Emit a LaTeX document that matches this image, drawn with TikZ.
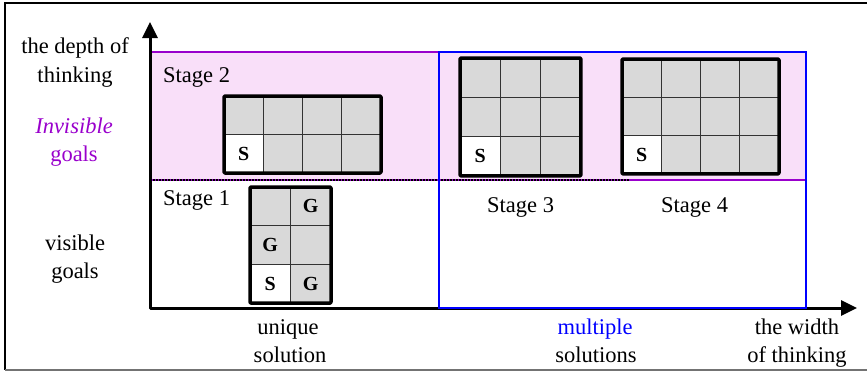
\documentclass[tikz,border=0pt]{standalone}
\usepackage{fontspec}
\setmainfont{Liberation Serif}
\usetikzlibrary{arrows.meta}
\definecolor{pinkfill}{RGB}{249,223,249}
\definecolor{purp}{RGB}{153,0,204}
\definecolor{cellgray}{RGB}{217,217,217}
\definecolor{inkblue}{RGB}{0,0,255}
\tikzset{AxTip/.tip={Triangle[length=16pt,width=15pt]}}
% puzzle board: x0, y0, columns, rows, cell width, cell height
\newcommand{\puzzlegrid}[6]{%
  \fill[cellgray] (#1,#2) rectangle ++(#3*#5,#4*#6);
  \fill[white] (#1,#2+#4*#6-#6) rectangle ++(#5,#6);
  \foreach \i in {1,...,#3} \draw[cellline] (#1+\i*#5,#2) -- ++(0,#4*#6);
  \foreach \j in {1,...,#4} \draw[cellline] (#1,#2+\j*#6) -- ++(#3*#5,0);
  \draw[gridframe] (#1,#2) rectangle ++(#3*#5,#4*#6);
}
\begin{document}
\begin{tikzpicture}[x=1pt,y=-1pt,
  lbl/.style={font=\fontsize{22.5}{27}\selectfont, inner sep=0pt, anchor=base},
  letter/.style={font=\fontsize{20}{24}\selectfont\bfseries, inner sep=0pt},
  cellline/.style={line width=1.3pt, draw=black!80},
  gridframe/.style={line width=3.5pt, rounded corners=1pt, line join=round},
  axis/.style={line width=3pt, line join=round, AxTip-AxTip}]
\useasboundingbox (0,0) rectangle (867,372);

% outer frame
\draw[line width=2pt] (867,3) -- (5,3) -- (5,370);
\draw[line width=1.5pt, black!55] (5,370) -- (867,370);

% band of invisible goals
\fill[pinkfill] (150,52) rectangle (806,180);
\draw[purp, line width=2pt] (150,52) -- (439,52);
\draw[purp, line width=2pt] (150,180) -- (806,180);
\draw[black, line width=2pt, dash pattern=on 1.5pt off 1.5pt] (150,180) -- (630,180);

% axes
\coordinate (ytip) at (150,22);
\coordinate (origin) at (150,308);
\coordinate (xtip) at (857,308);
\draw[axis] (ytip) -- (origin) -- (xtip);

% region of multiple solutions
\draw[inkblue, line width=2pt] (439,52) rectangle (806,308);

% puzzle boards
\puzzlegrid{224}{96}{4}{2}{39.25}{38.5}
\puzzlegrid{250}{187}{2}{3}{40.5}{38.7}
\puzzlegrid{460}{58}{3}{3}{40.3}{39.3}
\puzzlegrid{622}{59}{4}{3}{39.25}{38.3}

\node[letter] (s2S) at (243.6,153.5) {S};
\node[letter] (s1G1) at (310.75,206.4) {G};
\node[letter] (s1G2) at (270.25,245.1) {G};
\node[letter] (s1S) at (270.25,283.8) {S};
\node[letter] (s1G3) at (310.75,283.8) {G};
\node[letter] (s3S) at (480.2,156.3) {S};
\node[letter] (s4S) at (641.6,154.8) {S};

% stage labels
\node[lbl, anchor=base west] (st2) at (163,82) {Stage 2};
\node[lbl, anchor=base west] (st1) at (163,205) {Stage 1};
\node[lbl, anchor=base west] (st3) at (487,212) {Stage 3};
\node[lbl, anchor=base west] (st4) at (661,212) {Stage 4};

% vertical axis labels
\node[lbl] (dep1) at (75,53) {the depth of};
\node[lbl] (dep2) at (75,82) {thinking};
\node[lbl, text=purp] (inv1) at (74,133) {\itshape Invisible};
\node[lbl, text=purp] (inv2) at (74,161) {goals};
\node[lbl] (vis1) at (75,250) {visible};
\node[lbl] (vis2) at (75,278) {goals};

% horizontal axis labels
\node[lbl] (uni1) at (288,334) {unique};
\node[lbl] (uni2) at (290,362) {solution};
\node[lbl, text=inkblue] (mul1) at (595,334) {multiple};
\node[lbl] (mul2) at (596,362) {solutions};
\node[lbl] (wid1) at (797,334) {the width};
\node[lbl] (wid2) at (797,362) {of thinking};
\end{tikzpicture}
\end{document}
